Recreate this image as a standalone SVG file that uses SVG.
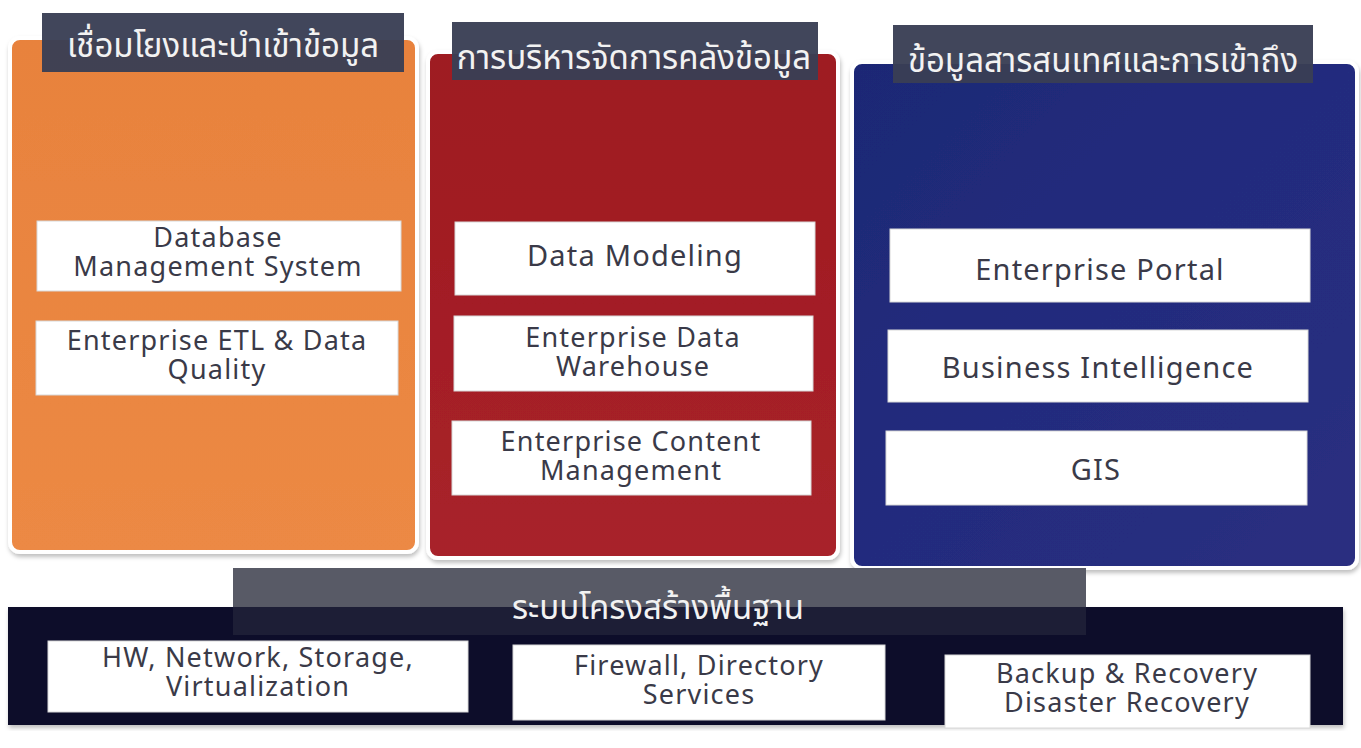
<svg xmlns="http://www.w3.org/2000/svg" width="1361" height="748" viewBox="0 0 1361 748">
<defs>
  <linearGradient id="gOrange" x1="0" y1="0" x2="0" y2="1">
    <stop offset="0" stop-color="#E8823D"/>
    <stop offset="1" stop-color="#EC8944"/>
  </linearGradient>
  <linearGradient id="gRed" x1="0" y1="0" x2="0" y2="1">
    <stop offset="0" stop-color="#9E1A20"/>
    <stop offset="1" stop-color="#A8222A"/>
  </linearGradient>
  <linearGradient id="gBlue" x1="0" y1="0" x2="1" y2="1">
    <stop offset="0" stop-color="#1D2875"/>
    <stop offset="0.5" stop-color="#232C7E"/>
    <stop offset="1" stop-color="#2B2E80"/>
  </linearGradient>
  <filter id="sh" x="-5%" y="-5%" width="110%" height="110%">
    <feDropShadow dx="1" dy="3" stdDeviation="2" flood-color="#000" flood-opacity="0.25"/>
  </filter>
</defs>
<style>
  .panel { stroke: #ffffff; stroke-width: 4; filter: url(#sh); }
  .bar { fill: #393E54; fill-opacity: 0.96; }
  .box { fill: #ffffff; stroke: #d8d8d8; stroke-width: 1; }
  .ttl { font-family: "Noto Sans Thai", "Noto Sans", "DejaVu Sans", sans-serif; font-size: 33px; fill: #F2F2F2; text-anchor: middle; }
  .lbl { font-family: "Noto Sans", "Open Sans", sans-serif; font-size: 27px; letter-spacing: 1.2px; fill: #3A3A48; text-anchor: middle; }
  .big { font-size: 29px; }
</style>
<rect width="1361" height="748" fill="#ffffff"/>

<g id="panel-integration">
  <rect class="panel" x="10" y="38" width="407" height="514" rx="10" fill="url(#gOrange)"/>
  <rect class="bar" x="42" y="13" width="362" height="59"/>
  <text class="ttl" x="223" y="57">เชื่อมโยงและนำเข้าข้อมูล</text>
</g>
<g id="panel-warehouse">
  <rect class="panel" x="428" y="52" width="410" height="506" rx="10" fill="url(#gRed)"/>
  <rect class="bar" x="452" y="22" width="366" height="58"/>
  <text class="ttl" x="634" y="69">การบริหารจัดการคลังข้อมูล</text>
</g>
<g id="panel-access">
  <rect class="panel" x="852" y="62" width="505" height="506" rx="10" fill="url(#gBlue)"/>
  <rect class="bar" x="893" y="25" width="420" height="58"/>
  <text class="ttl" x="1103" y="72">ข้อมูลสารสนเทศและการเข้าถึง</text>
</g>

<g id="box-dbms">
  <rect class="box" x="37" y="221" width="364" height="70"/>
  <text class="lbl" x="218" y="247">Database</text>
  <text class="lbl" x="218" y="276">Management System</text>
</g>
<g id="box-etl">
  <rect class="box" x="36" y="321" width="362" height="74"/>
  <text class="lbl" x="217" y="350">Enterprise ETL &amp; Data</text>
  <text class="lbl" x="217" y="379">Quality</text>
</g>
<g id="box-modeling">
  <rect class="box" x="455" y="222" width="360" height="73"/>
  <text class="lbl big" x="635" y="266">Data Modeling</text>
</g>
<g id="box-edw">
  <rect class="box" x="454" y="316" width="359" height="75"/>
  <text class="lbl" x="633" y="347">Enterprise Data</text>
  <text class="lbl" x="633" y="376">Warehouse</text>
</g>
<g id="box-ecm">
  <rect class="box" x="452" y="421" width="359" height="74"/>
  <text class="lbl" x="631" y="451">Enterprise Content</text>
  <text class="lbl" x="631" y="480">Management</text>
</g>
<g id="box-portal">
  <rect class="box" x="890" y="229" width="420" height="73"/>
  <text class="lbl big" x="1100" y="280">Enterprise Portal</text>
</g>
<g id="box-bi">
  <rect class="box" x="888" y="330" width="420" height="72"/>
  <text class="lbl big" x="1098" y="378">Business Intelligence</text>
</g>
<g id="box-gis">
  <rect class="box" x="886" y="431" width="421" height="74"/>
  <text class="lbl big" x="1096" y="480">GIS</text>
</g>

<g id="panel-infra">
  <rect x="233" y="568" width="853" height="67" fill="#585A66"/>
  <rect x="8" y="607" width="1335" height="118" fill="#0B102C" filter="url(#sh)"/>
  <rect x="233" y="607" width="853" height="28" fill="#585A66" fill-opacity="0.22"/>
  <text class="ttl" x="658" y="619">ระบบโครงสร้างพื้นฐาน</text>
</g>
<g id="box-hw">
  <rect class="box" x="48" y="641" width="420" height="71"/>
  <text class="lbl" x="258" y="667">HW, Network, Storage,</text>
  <text class="lbl" x="258" y="696">Virtualization</text>
</g>
<g id="box-firewall">
  <rect class="box" x="513" y="645" width="372" height="75"/>
  <text class="lbl" x="699" y="675">Firewall, Directory</text>
  <text class="lbl" x="699" y="704">Services</text>
</g>
<g id="box-backup">
  <rect class="box" x="945" y="655" width="365" height="73"/>
  <text class="lbl" x="1127" y="683">Backup &amp; Recovery</text>
  <text class="lbl" x="1127" y="712">Disaster Recovery</text>
</g>
<g id="connectors"/>
</svg>
